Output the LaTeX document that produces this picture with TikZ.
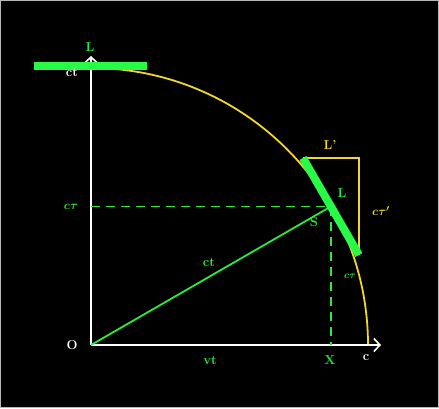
\documentclass[tikz,border=0pt]{standalone}
\usetikzlibrary{arrows.meta,calc}
\definecolor{gr}{RGB}{40,235,60}
\definecolor{bar}{RGB}{40,250,70}
\definecolor{yl}{RGB}{240,215,40}
\begin{document}
\begin{tikzpicture}[x=1pt,y=1pt,
  lbl/.style={inner sep=0pt,font=\fontsize{13}{15}\selectfont\bfseries\boldmath},
  axis/.style={white,line width=1.6pt,-{Straight Barb[length=6pt,width=13pt,line width=1.6pt]}},
  thin line/.style={line width=1.8pt},
  thickbar/.style={bar,line width=8pt},
  dash line/.style={gr,line width=1.8pt,dash pattern=on 9pt off 6pt}]
\useasboundingbox (0,0) rectangle (439,408);
\fill[gray!55] (0,0) rectangle (439,408);
\fill[black] (1.2,1.2) rectangle (437.8,406.8);
% points
\coordinate (O) at (91,63);
\coordinate (Ytop) at (91,352);
\coordinate (Xend) at (381,63);
\coordinate (S) at (330.9,201.5);
\coordinate (T) at ($(S)+(-28,48.5)$);
\coordinate (B) at ($(S)+(28,-48.5)$);
\coordinate (Sy) at (91,201.5);
\coordinate (Xp) at (330.9,63);
\coordinate (A) at (91,340);
\coordinate (BarL) at (34,342);
\coordinate (BarR) at (147,342);
% arc
\draw[yl,line width=1.8pt] (A) arc[start angle=90,end angle=0,radius=277];
% axes
\draw[axis] (O) -- (Ytop);
\draw[axis] (O) -- (Xend);
% dashed
\draw[dash line] (Sy) -- (S);
\draw[dash line] (S) -- (Xp);
% yellow L shape
\draw[yl,line width=1.8pt] (T) -| (B);
% green line
\draw[gr,thin line] (O) -- (S);
% bars
\draw[thickbar] (BarL) -- (BarR);
\draw[thickbar] (T) -- (B);
% labels
\node[lbl,white] (ctTop) at (72,336) {ct};
\node[lbl,gr] (Lax) at (90,361) {L};
\node[lbl,white] (Olbl) at (72,63) {O};
\node[lbl,white] (clbl) at (366,50) {c};
\node[lbl,gr] (Xlbl) at (330,48) {X};
\node[lbl,gr] (vt) at (210,48) {vt};
\node[lbl,gr] (ct) at (209,146) {ct};
\node[lbl,gr] (ctau) at (71,201) {$c\tau$};
\node[lbl,gr] (Slbl) at (314,186) {S};
\node[lbl,gr] (Lbar) at (342,215) {L};
\node[lbl,yl] (Lp) at (330,263) {L'};
\node[lbl,yl] (ctaup) at (381,197) {$c\tau'$};
\node[inner sep=0pt,font=\fontsize{10}{12}\selectfont\boldmath,gr] (ctausm) at (350,132) {$c\tau$};
\end{tikzpicture}
\end{document}
